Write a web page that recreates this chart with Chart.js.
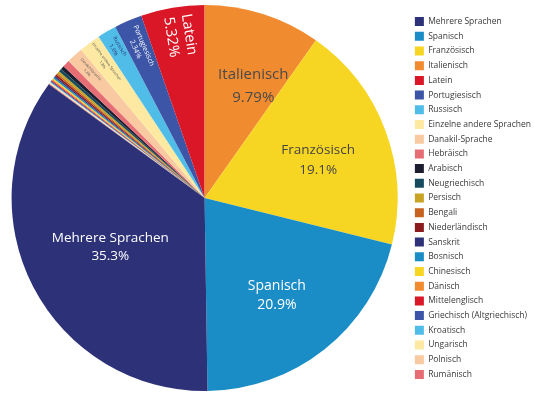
<!DOCTYPE html>
<html>
<head>
<meta charset="utf-8">
<script src="https://cdn.jsdelivr.net/npm/chart.js@4"></script>
<style>
  html, body { margin: 0; padding: 0; background: #fff; overflow: hidden; }
  #wrap { width: 544px; height: 395px; }
</style>
</head>
<body>
<div id="wrap"><canvas id="pieChart"></canvas></div>
<script>
// languages in legend order, with their share in percent
let languages = ['Mehrere Sprachen', 'Spanisch', 'Französisch', 'Italienisch', 'Latein',
                 'Portugiesisch', 'Russisch', 'Einzelne andere Sprachen', 'Danakil-Sprache', 'Hebräisch',
                 'Arabisch', 'Neugriechisch', 'Persisch', 'Bengali', 'Niederländisch',
                 'Sanskrit', 'Bosnisch', 'Chinesisch', 'Dänisch', 'Mittelenglisch',
                 'Griechisch (Altgriechisch)', 'Kroatisch', 'Ungarisch', 'Polnisch', 'Rumänisch'];
let shares = [35.3, 20.9, 19.1, 9.79, 5.32,
              2.34, 1.6, 1.8, 1.4, 0.6,
              0.3, 0.25, 0.2, 0.15, 0.15,
              0.12, 0.12, 0.1, 0.1, 0.08,
              0.08, 0.07, 0.07, 0.06, 0.06];

let palette = ['#2c3178', '#1a8cc6', '#f7d623', '#f08b2f', '#da1727',
               '#3c55a7', '#50bde9', '#fde9a2', '#f9c9a1', '#e76d75',
               '#1d1d30', '#164b5f', '#c9a424', '#c8621f', '#8c1b1e'];

// label look per slice (only the slices that carry a label)
let labelStyle = {
    'Mehrere Sprachen': {r: 0.55, shift: 0, size: 13.5, gap: 18, color: '#fff', rotate: false},
    'Spanisch': {r: 0.63, shift: 2, size: 14, gap: 19, color: '#fff', rotate: false},
    'Französisch': {r: 0.62, shift: 2, size: 13.5, gap: 20, color: '#444', rotate: false},
    'Italienisch': {r: 0.63, shift: 6, size: 15, gap: 23, color: '#4a4a4a', rotate: false},
    'Latein': {r: 0.85, shift: 1, size: 14.5, gap: 18, color: '#fff', rotate: true},
    'Portugiesisch': {r: 0.85, shift: 0, size: 7, gap: 9, color: '#fff', rotate: true},
    'Russisch': {r: 0.9, shift: 0, size: 5.5, gap: 7, color: '#2c3178', rotate: true},
    'Einzelne andere Sprachen': {r: 0.87, shift: 0, size: 3.8, gap: 5, color: '#555', rotate: true},
    'Danakil-Sprache': {r: 0.89, shift: 0, size: 3.8, gap: 5, color: '#555', rotate: true}
};

// the pie runs counter-clockwise in the original, so draw reversed and reverse the legend back
let drawLangs = languages.slice().reverse();
let drawShares = shares.slice().reverse();
let drawColors = languages.map((l, i) => palette[i % palette.length]).reverse();

let total = shares.reduce((a, b) => a + b, 0);
let beforeItalienisch = 0;
for (i = languages.indexOf('Italienisch') + 1; i < languages.length; i++) {
    beforeItalienisch = beforeItalienisch + shares[i];
}
let startRotation = -360 * beforeItalienisch / total;

let sliceLabels = {
    id: 'sliceLabels',
    afterDatasetsDraw(chart) {
        let ctx = chart.ctx;
        let meta = chart.getDatasetMeta(0);
        meta.data.forEach((arc, i) => {
            let st = labelStyle[drawLangs[i]];
            if (!st) return;
            let p = arc.getProps(['x', 'y', 'startAngle', 'endAngle', 'outerRadius'], true);
            let mid = (p.startAngle + p.endAngle) / 2 + st.shift * Math.PI / 180;
            let r = p.outerRadius * st.r;
            ctx.save();
            ctx.translate(p.x + Math.cos(mid) * r, p.y + Math.sin(mid) * r);
            if (st.rotate) ctx.rotate(mid + Math.PI);
            ctx.fillStyle = st.color;
            ctx.font = st.size + 'px "Open Sans"';
            ctx.textAlign = 'center';
            ctx.textBaseline = 'middle';
            ctx.fillText(drawLangs[i], 0, -st.gap / 2);
            ctx.fillText(drawShares[i] + '%', 0, st.gap / 2);
            ctx.restore();
        });
    }
};

let pieChartCtx = document.getElementById('pieChart').getContext('2d');
let pieChart = new Chart(pieChartCtx, {
    type: 'pie',
    data: {
        labels: drawLangs,
        datasets: [{
            data: drawShares,
            backgroundColor: drawColors,
            borderWidth: 0
        }]
    },
    options: {
        responsive: true,
        maintainAspectRatio: false,
        animation: false,
        rotation: startRotation,
        layout: {padding: {top: 5, bottom: 4, left: 0, right: 3}},
        plugins: {
            tooltip: {enabled: false},
            legend: {
                position: 'right',
                reverse: true,
                labels: {
                    boxWidth: 9,
                    boxHeight: 9,
                    padding: 5.7,
                    color: '#3a3a3a',
                    font: {family: 'Open Sans', size: 8.5}
                }
            }
        }
    },
    plugins: [sliceLabels]
});
</script>
</body>
</html>
